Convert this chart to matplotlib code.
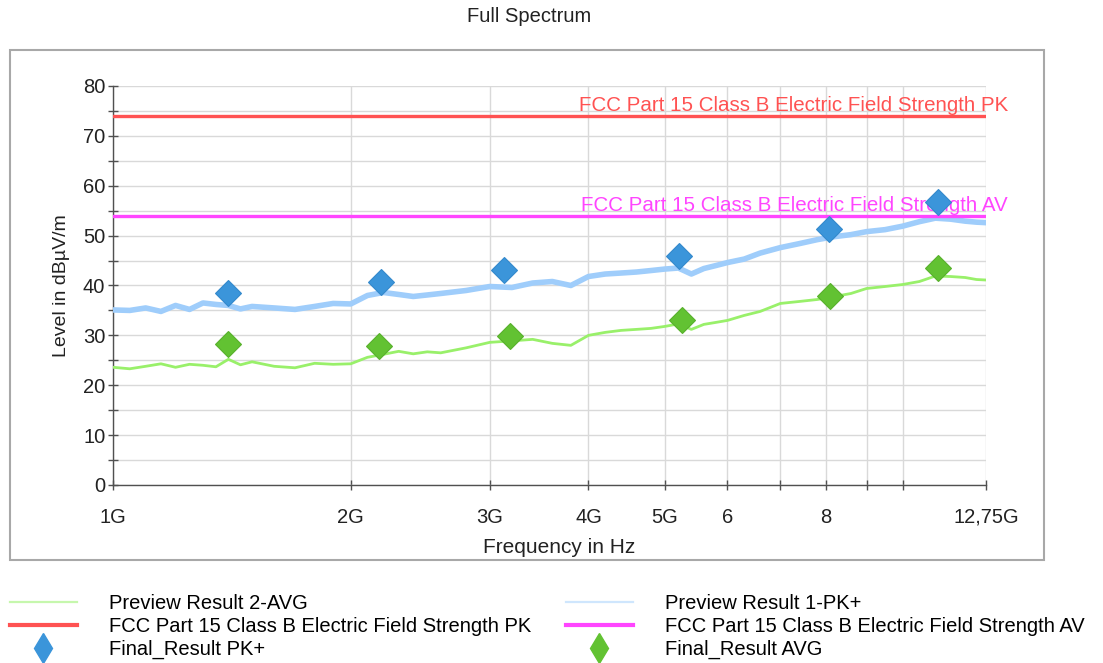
import numpy as np
import matplotlib
matplotlib.use("Agg")
import matplotlib.pyplot as plt
from matplotlib.lines import Line2D
from matplotlib.patches import Rectangle
from matplotlib.ticker import FixedLocator, FixedFormatter, NullLocator

plt.rcParams['font.family'] = ['Liberation Sans', 'DejaVu Sans']

# Frequencies of the sampled preview traces (GHz)
freq_ghz = [1.0, 1.05, 1.1, 1.15, 1.2, 1.25, 1.3, 1.35, 1.4, 1.45, 1.5, 1.6, 1.7,
            1.8, 1.9, 2.0, 2.1, 2.2, 2.3, 2.4, 2.5, 2.6, 2.8, 3.0, 3.2, 3.4, 3.6,
            3.8, 4.0, 4.2, 4.4, 4.6, 4.8, 5.0, 5.2, 5.4, 5.6, 5.8, 6.0, 6.3, 6.6,
            7.0, 7.4, 7.8, 8.2, 8.6, 9.0, 9.5, 10.0, 10.5, 11.0, 11.5, 12.0, 12.4,
            12.75]

# Preview Result 1-PK+ (dBuV/m)
preview_pk = [35.1, 35.0, 35.5, 34.8, 36.0, 35.2, 36.5, 36.2, 36.0, 35.3, 35.8,
              35.5, 35.2, 35.8, 36.4, 36.3, 38.0, 38.6, 38.2, 37.8, 38.1, 38.4,
              39.0, 39.8, 39.6, 40.5, 40.8, 40.0, 41.8, 42.3, 42.5, 42.7, 43.0,
              43.3, 43.5, 42.3, 43.4, 44.0, 44.6, 45.3, 46.5, 47.6, 48.4, 49.2,
              49.8, 50.2, 50.8, 51.2, 51.9, 52.8, 53.5, 53.3, 52.9, 52.7, 52.6]

# Preview Result 2-AVG (dBuV/m)
preview_avg = [23.6, 23.3, 23.8, 24.3, 23.6, 24.2, 24.0, 23.7, 25.2, 24.1, 24.7,
               23.8, 23.5, 24.4, 24.2, 24.3, 25.6, 26.2, 26.8, 26.3, 26.7, 26.5,
               27.5, 28.6, 28.9, 29.2, 28.4, 28.0, 30.0, 30.6, 31.0, 31.2, 31.4,
               31.8, 32.3, 31.2, 32.2, 32.6, 33.0, 34.0, 34.8, 36.4, 36.8, 37.2,
               37.8, 38.4, 39.4, 39.8, 40.2, 40.8, 41.9, 41.8, 41.6, 41.2, 41.1]

# Final results
final_pk_f = [1.398, 2.185, 3.127, 5.21, 8.07, 11.08]
final_pk = [38.5, 40.7, 43.1, 45.9, 51.3, 56.7]
final_avg_f = [1.398, 2.17, 3.18, 5.25, 8.09, 11.08]
final_avg = [28.3, 27.9, 29.9, 33.1, 37.9, 43.5]

# Limit lines
limit_pk = 74
limit_av = 54
limit_pk_label = "FCC Part 15 Class B Electric Field Strength PK"
limit_av_label = "FCC Part 15 Class B Electric Field Strength AV"

xtick_ghz = [1, 2, 3, 4, 5, 6, 7, 8, 9, 10, 12.75]
xtick_labels = ["1G", "2G", "3G", "4G", "5G", "6", "", "8", "", "", "12,75G"]

c_pk_prev = "#9fcdfb"
c_avg_prev = "#99f06a"
c_pk_lim = "#ff5252"
c_av_lim = "#ff45ff"
c_pk_fin = "#3b95da"
c_avg_fin = "#62c232"

fs = 14.5

fig = plt.figure(figsize=(11.03, 6.63), dpi=100)
ax = fig.add_axes([0.10245, 0.26848, 0.79148, 0.60181])

f = np.array(freq_ghz) * 1e9
ax.plot(f, preview_avg, color=c_avg_prev, lw=2.0, zorder=3)
ax.plot(f, preview_pk, color=c_pk_prev, lw=4.0, zorder=3)

f_lim = [freq_ghz[0] * 1e9, freq_ghz[-1] * 1e9]
ax.plot(f_lim, [limit_pk, limit_pk], color=c_pk_lim, lw=2.4, zorder=4)
ax.plot(f_lim, [limit_av, limit_av], color=c_av_lim, lw=2.4, zorder=4)

ax.plot(np.array(final_pk_f) * 1e9, final_pk, "D", color=c_pk_fin, ms=13,
        mec="#3489cc", mew=0.8, zorder=6)
ax.plot(np.array(final_avg_f) * 1e9, final_avg, "D", color=c_avg_fin, ms=13,
        mec="#58b02c", mew=0.8, zorder=6)

# limit labels, right aligned just past the end of the axis
ax.text(1.0252, limit_pk + 0.9, limit_pk_label, color=c_pk_lim, fontsize=14.8,
        ha="right", va="baseline", transform=ax.get_yaxis_transform(),
        clip_on=False, zorder=5)
ax.text(1.0252, limit_av + 0.9, limit_av_label, color=c_av_lim, fontsize=14.8,
        ha="right", va="baseline", transform=ax.get_yaxis_transform(),
        clip_on=False, zorder=5)

ax.set_xscale("log")
ax.set_xlim(1e9, 12.75e9)
ax.set_ylim(0, 80)
ax.xaxis.set_major_locator(FixedLocator([v * 1e9 for v in xtick_ghz]))
ax.xaxis.set_major_formatter(FixedFormatter(xtick_labels))
ax.xaxis.set_minor_locator(NullLocator())
ax.set_yticks(range(0, 81, 10))
ax.set_yticks(range(5, 80, 10), minor=True)

ax.grid(True, which="both", color="#d9d9d9", lw=1.0, zorder=0)
for s in ["top", "right"]:
    ax.spines[s].set_visible(False)
for s in ["left", "bottom"]:
    ax.spines[s].set_color("#505050")
    ax.spines[s].set_linewidth(1.0)
ax.tick_params(which="both", direction="inout", length=7, width=1.0,
               color="#505050", labelsize=fs, labelcolor="#222222")
ax.tick_params(axis="x", pad=13)
ax.tick_params(axis="y", pad=2)

ax.set_xlabel("Frequency in Hz", fontsize=15, color="#222222")
ax.xaxis.set_label_coords(0.511, -0.133)
ax.set_ylabel("Level in dB\u00b5V/m", fontsize=14, color="#222222")
ax.yaxis.set_label_coords(-0.049, 0.5)

fig.text(0.4796, 1 - 7 / 663, "Full Spectrum", fontsize=fs, ha="center",
         va="top", color="#222222")

# outer frame
fig.patches.append(Rectangle((10 / 1103, 1 - 560 / 663), 1034 / 1103, 510 / 663,
                             transform=fig.transFigure, fill=False,
                             edgecolor="#a8a8a8", lw=1.5))

handles = [
    Line2D([], [], color="#c6f7ad", lw=1.6),
    Line2D([], [], color=c_pk_lim, lw=3),
    Line2D([], [], ls="none", marker="d", color=c_pk_fin, ms=15),
    Line2D([], [], color="#cfe6fd", lw=1.6),
    Line2D([], [], color=c_av_lim, lw=3),
    Line2D([], [], ls="none", marker="d", color=c_avg_fin, ms=15),
]
labels = ["Preview Result 2-AVG", limit_pk_label, "Final_Result PK+",
          "Preview Result 1-PK+", limit_av_label, "Final_Result AVG"]
fig.legend(handles, labels, ncol=2, loc="upper left",
           bbox_to_anchor=(0.0, 1 - 584 / 663), frameon=False, fontsize=fs,
           handlelength=3.3, handletextpad=1.6, columnspacing=1.75,
           labelspacing=0.2, borderpad=0.2, borderaxespad=0.3)

fig.savefig("out.png", dpi=100)
